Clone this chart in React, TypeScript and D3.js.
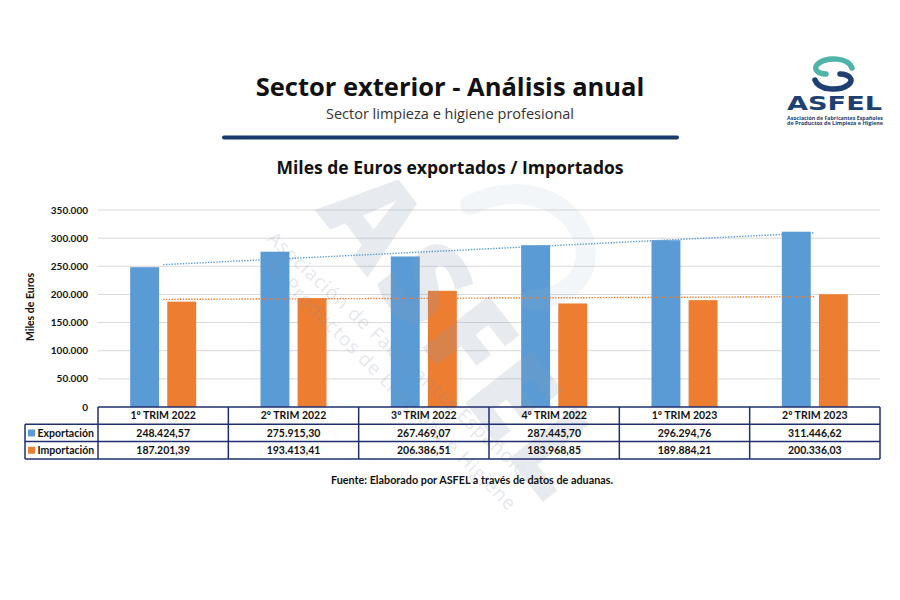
import React from "react";
import * as d3 from "d3";

const categories = ["1º TRIM 2022", "2º TRIM 2022", "3º TRIM 2022", "4º TRIM 2022", "1º TRIM 2023", "2º TRIM 2023"];
const exportacion = [248424.57, 275915.30, 267469.07, 287445.70, 296294.76, 311446.62];
const importacion = [187201.39, 193413.41, 206386.51, 183968.85, 189884.21, 200336.03];
const seriesNames = ["Exportación", "Importación"];
const seriesColors = ["#5b9bd5", "#ed7d31"];
const yTicks = [0, 50000, 100000, 150000, 200000, 250000, 300000, 350000];

const W = 900, H = 600;
const left = 98, right = 880, top = 210, bottom = 407;
const rowH = 17.3;
const navy = "#1f2f6e";

const loc = d3.formatLocale({ decimal: ",", thousands: ".", grouping: [3], currency: ["", "€"] });
const fmtTick = loc.format(",.0f");
const fmtVal = loc.format(",.2f");

function trend(vals: number[]) {
  const xs = vals.map((_, i) => i + 1);
  const mx = d3.mean(xs)!, my = d3.mean(vals)!;
  const sxy = d3.sum(xs.map((x, i) => (x - mx) * (vals[i] - my)));
  const sxx = d3.sum(xs.map((x) => (x - mx) ** 2));
  const b = sxy / sxx;
  const a = my - b * mx;
  return xs.map((x) => a + b * x);
}

export default function App() {
  const x0 = d3.scaleBand<string>().domain(categories).range([left, right]).paddingInner(0).paddingOuter(0);
  const x1 = d3.scaleBand<string>().domain(seriesNames).range([0, 66]).paddingInner(0.22);
  const y = d3.scaleLinear().domain([0, 350000]).range([bottom, top]);
  const data = [exportacion, importacion];
  const line = d3.line<number>().x((_, i) => x0(categories[i])! + x0.bandwidth() / 2).y((d) => y(d));
  const tableFont = "Lato, 'Open Sans', sans-serif";
  const cw = x0.bandwidth();

  return (
    <svg width={W} height={H} style={{ position: "absolute", left: 0, top: 0, background: "#fff" }} fontFamily="'Open Sans', sans-serif">
      <rect width={W} height={H} fill="#fff" />
      {/* Header */}
      <text x={450} y={96} textAnchor="middle" fontSize={25.5} fontWeight={700} fill="#111">Sector exterior - Análisis anual</text>
      <text x={450} y={119} textAnchor="middle" fontSize={14.5} fill="#333">Sector limpieza e higiene profesional</text>
      <line x1={224} x2={677} y1={137.5} y2={137.5} stroke="#1b3b6a" strokeWidth={4} strokeLinecap="round" />
      <text x={450} y={174} textAnchor="middle" fontSize={17.5} fontWeight={700} fill="#111">Miles de Euros exportados / Importados</text>

      {/* Logo */}
      <g>
        <path d="M852,68 C848,57 827,57 819,63 C812,68 817,74 826,74" fill="none" stroke="#4fb3a7" strokeWidth={5.5} strokeLinecap="round" />
        <path d="M815,80 C819,91 840,91 848,85 C855,80 849,74 840,74" fill="none" stroke="#1d3f72" strokeWidth={5.5} strokeLinecap="round" />
        <text x={787} y={110} textLength={95} lengthAdjust="spacingAndGlyphs" fontSize={19.5} fontWeight={800} fill="#1d3f72" fontFamily="'DejaVu Sans', sans-serif">ASFEL</text>
        <text x={787} y={119.5} textLength={96} lengthAdjust="spacingAndGlyphs" fontSize={4.8} fontWeight={700} fill="#1d3f72">Asociación de Fabricantes Españoles</text>
        <text x={787} y={125} textLength={96} lengthAdjust="spacingAndGlyphs" fontSize={4.8} fontWeight={700} fill="#1d3f72">de Productos de Limpieza e Higiene</text>
      </g>

      {/* gridlines */}
      {yTicks.filter((t) => t > 0).map((t) => (
        <line key={t} x1={left} x2={right} y1={y(t)} y2={y(t)} stroke="#d9d9d9" strokeWidth={1} />
      ))}
      {yTicks.map((t) => (
        <text key={"l" + t} x={88} y={y(t) + 3.5} textAnchor="end" fontSize={10} fontWeight={700} fontFamily={tableFont} fill="#111">{fmtTick(t)}</text>
      ))}
      <text transform={`translate(34,307) rotate(-90)`} textAnchor="middle" fontSize={10.5} fontWeight={700} fontFamily={tableFont} fill="#111">Miles de Euros</text>

      {/* bars */}
      {categories.map((c, i) => (
        <g key={c} transform={`translate(${x0(c)! + cw / 2 - 33},0)`}>
          {seriesNames.map((s, j) => (
            <rect key={s} x={x1(s)!} y={y(data[j][i])} width={x1.bandwidth()} height={bottom - y(data[j][i])} fill={seriesColors[j]} />
          ))}
        </g>
      ))}

      {/* trendlines */}
      {data.map((vals, j) => (
        <path key={j} d={line(trend(vals))!} fill="none" stroke={seriesColors[j]} strokeWidth={1.4} strokeDasharray="1.4 1.4" />
      ))}

      {/* Watermark */}
      <g opacity={0.2} pointerEvents="none">
        <path d="M470,205 C520,180 575,200 585,245 C592,280 560,300 530,300" fill="none" stroke="#9fb6c8" strokeWidth={20} strokeLinecap="round" opacity={0.6} />
        <text transform="translate(432,360) rotate(52)" textAnchor="middle" fontSize={118} fontWeight={800} fill="#8a9bb3" letterSpacing={6}>ASFEL</text>
        <text transform="translate(397,362) rotate(43)" textAnchor="middle" fontSize={19} fill="#7d8ea5" letterSpacing={1}>Asociación de Fabricantes Españoles</text>
        <text transform="translate(385,388) rotate(45)" textAnchor="middle" fontSize={19} fill="#7d8ea5" letterSpacing={1}>de Productos de Limpieza e Higiene</text>
      </g>

      {/* table */}
      <g fontFamily={tableFont} fontWeight={700} fontSize={10.5} fill="#111">
        <line x1={left} x2={right} y1={bottom} y2={bottom} stroke={navy} strokeWidth={1.5} />
        <line x1={25} x2={right} y1={bottom + rowH} y2={bottom + rowH} stroke={navy} strokeWidth={1.5} />
        <line x1={25} x2={right} y1={bottom + rowH * 2} y2={bottom + rowH * 2} stroke={navy} strokeWidth={1.5} />
        <line x1={25} x2={right} y1={bottom + rowH * 3} y2={bottom + rowH * 3} stroke={navy} strokeWidth={1.5} />
        <line x1={25} x2={25} y1={bottom + rowH} y2={bottom + rowH * 3} stroke={navy} strokeWidth={1.5} />
        {[...categories.map((c) => x0(c)!), right].map((xx, i) => (
          <line key={i} x1={xx} x2={xx} y1={bottom} y2={bottom + rowH * 3} stroke={navy} strokeWidth={1.5} />
        ))}
        {categories.map((c, i) => (
          <g key={c}>
            <text x={x0(c)! + cw / 2} y={bottom + rowH * 0.5 + 3.8} textAnchor="middle">{c}</text>
            <text x={x0(c)! + cw / 2} y={bottom + rowH * 1.5 + 3.8} textAnchor="middle">{fmtVal(exportacion[i])}</text>
            <text x={x0(c)! + cw / 2} y={bottom + rowH * 2.5 + 3.8} textAnchor="middle">{fmtVal(importacion[i])}</text>
          </g>
        ))}
        {seriesNames.map((s, j) => (
          <g key={s}>
            <rect x={28} y={bottom + rowH * (j + 1.5) - 3.5} width={7} height={7} fill={seriesColors[j]} />
            <text x={37.5} y={bottom + rowH * (j + 1.5) + 3.8} fontSize={10.5}>{s}</text>
          </g>
        ))}
      </g>

      <text x={472} y={484} textAnchor="middle" fontSize={10.8} fontWeight={700} fontFamily={tableFont} fill="#111">Fuente: Elaborado por ASFEL a través de datos de aduanas.</text>
    </svg>
  );
}
